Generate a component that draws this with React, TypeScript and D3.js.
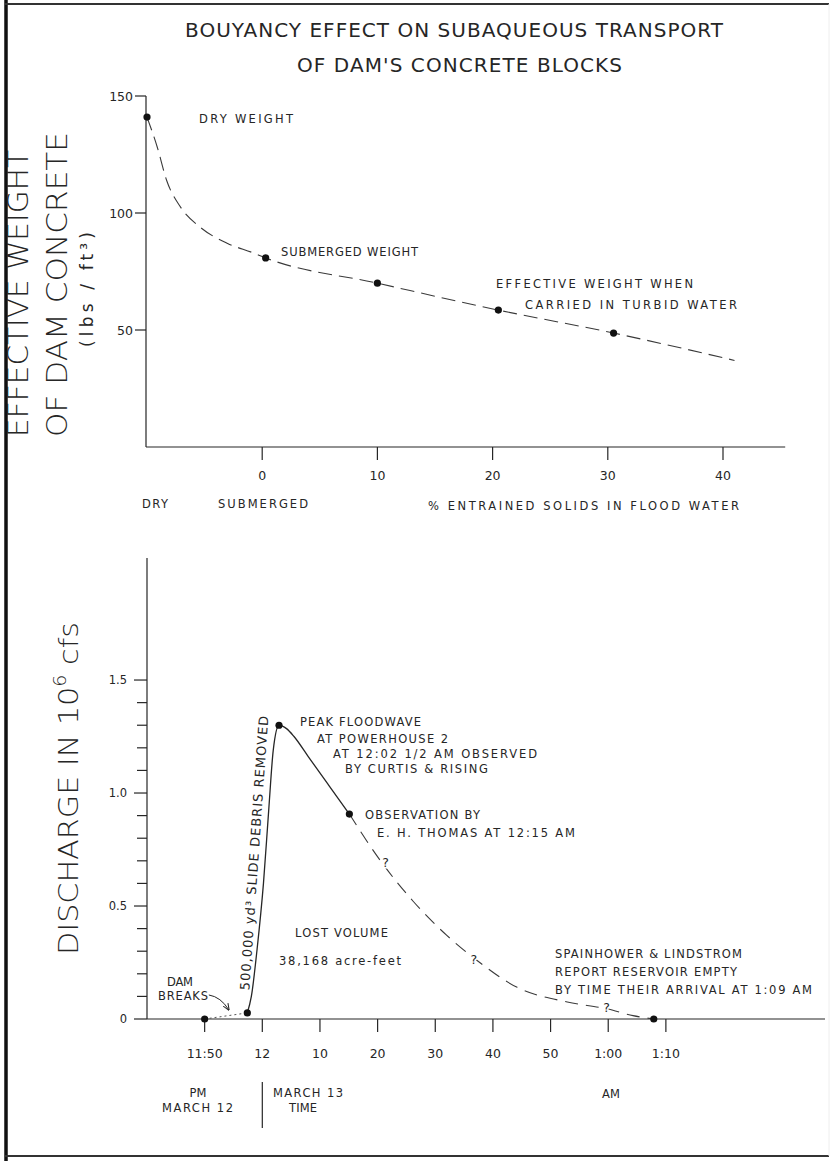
import React from 'react';
import * as d3 from 'd3';

const W = 831;
const H = 1161;

// ---- upper chart: effective weight vs % entrained solids (DRY plotted at -10)
const solidsPct = [-10, -9.1, -8.3, -7.1, -5.4, -3, -0.8, 0.3, 10, 20.5, 30.5, 41];
const effWeight = [141, 128, 114, 102.6, 94, 87, 83, 80.8, 70, 58.5, 48.7, 37];
const weightDotPct = [-10, 0.3, 10, 20.5, 30.5];
const weightDotVal = [141, 80.8, 70, 58.5, 48.7];
const weightTicks = [50, 100, 150];
const solidsTicks = [0, 10, 20, 30, 40];

// ---- lower chart: discharge (10^6 cfs) vs minutes after midnight
const solidMin = [-2.6, -1.9, -0.9, 0.2, 1.1, 1.9, 2.9, 4.2, 5.5, 8, 11.5, 15.1];
const solidQ = [0.027, 0.1, 0.31, 0.6, 0.92, 1.19, 1.3, 1.285, 1.25, 1.16, 1.035, 0.907];
const tailMin = [15.1, 20.5, 26.2, 32, 37.2, 44.2, 52.9, 59.8, 64.3, 67.9];
const tailQ = [0.907, 0.7, 0.52, 0.37, 0.26, 0.14, 0.075, 0.045, 0.015, 0];
const breakMin = [-10, -2.6];
const breakQ = [0, 0.027];
const obsMin = [-10, -2.6, 2.9, 15.1, 67.9];
const obsQ = [0, 0.027, 1.3, 0.907, 0];
const questionMin = [21.4, 36.7, 59.7];
const questionQ = [0.69, 0.26, 0.05];
const timeTicks = [-10, 0, 10, 20, 30, 40, 50, 60, 70];
const timeLabels = ['11:50', '12', '10', '20', '30', '40', '50', '1:00', '1:10'];
const qMajor = [0, 0.5, 1.0, 1.5];
const qMajorLabels = ['0', '0.5', '1.0', '1.5'];
const qMinor = [0.1, 0.2, 0.3, 0.4, 0.6, 0.7, 0.8, 0.9, 1.1, 1.2, 1.3, 1.4];

const ink = '#262626';
const font = '"DejaVu Sans", Verdana, sans-serif';

type TProps = {
  x: number;
  y: number;
  w?: number;
  size?: number;
  anchor?: 'start' | 'middle' | 'end';
  children: React.ReactNode;
};

const T = ({ x, y, w, size = 11.5, anchor = 'start', children }: TProps) => (
  <text
    x={x}
    y={y}
    fontSize={size}
    textAnchor={anchor}
    fill={ink}
    fontFamily={font}
    textLength={w}
    lengthAdjust={w ? 'spacing' : undefined}
  >
    {children}
  </text>
);

export default function App() {
  // upper scales
  const xTop = d3.scaleLinear().domain([-10, 40]).range([147, 723]);
  const yTop = d3.scaleLinear().domain([0, 150]).range([447, 96]);
  const topAxisEnd = 45.4;

  // lower scales
  const xBot = d3.scaleLinear().domain([-20, 97.6]).range([147, 825]);
  const yBot = d3.scaleLinear().domain([0, 2.04]).range([1019, 558]);

  const weightLine = d3
    .line<number>()
    .x((d) => xTop(d))
    .y((_, i) => yTop(effWeight[i]))
    .curve(d3.curveMonotoneX);

  const solidLine = d3
    .line<number>()
    .x((d) => xBot(d))
    .y((_, i) => yBot(solidQ[i]))
    .curve(d3.curveMonotoneX);

  const tailLine = d3
    .line<number>()
    .x((d) => xBot(d))
    .y((_, i) => yBot(tailQ[i]))
    .curve(d3.curveMonotoneX);

  const breakLine = d3
    .line<number>()
    .x((d) => xBot(d))
    .y((_, i) => yBot(breakQ[i]));

  // arrow for DAM BREAKS label, pointing at the dotted segment
  const arrowTip: [number, number] = [xBot(-5.8), yBot(0.04)];
  const arrowStart: [number, number] = [arrowTip[0] - 20, arrowTip[1] - 15];

  return (
    <div style={{ position: 'absolute', left: 0, top: 0 }}>
      <svg width={W} height={H} style={{ display: 'block', background: '#fff' }}>
        <defs>
          <marker id="ah" viewBox="0 0 10 10" refX="9" refY="5" markerWidth="7" markerHeight="7" orient="auto">
            <path d="M0,1 L10,5 L0,9" fill="none" stroke={ink} strokeWidth={1.5} />
          </marker>
        </defs>

        {/* frame */}
        <line x1={6} x2={6} y1={0} y2={H} stroke="#111" strokeWidth={3.5} />
        <line x1={5} x2={829} y1={4} y2={4} stroke="#333" strokeWidth={2} />
        <line x1={5} x2={829} y1={1156} y2={1156} stroke="#333" strokeWidth={2} />
        <line x1={829} x2={829} y1={4} y2={1156} stroke="#eee" strokeWidth={1} />

        {/* title */}
        <T x={185} y={37} w={538} size={20}>BOUYANCY EFFECT ON SUBAQUEOUS TRANSPORT</T>
        <T x={297} y={72} w={325} size={20}>OF DAM'S CONCRETE BLOCKS</T>

        {/* ================= upper chart ================= */}
        <g stroke={ink} strokeWidth={1.2}>
          <line x1={xTop(-10) - 1} x2={xTop(-10) - 1} y1={yTop(150)} y2={yTop(0)} />
          <line x1={xTop(-10) - 1} x2={xTop(topAxisEnd)} y1={yTop(0)} y2={yTop(0)} />
          {weightTicks.map((t) => (
            <line key={t} x1={xTop(-10) - 12} x2={xTop(-10) - 1} y1={yTop(t)} y2={yTop(t)} />
          ))}
          {solidsTicks.map((t) => (
            <line key={t} x1={xTop(t)} x2={xTop(t)} y1={yTop(0)} y2={yTop(0) + 13} />
          ))}
        </g>
        {weightTicks.map((t) => (
          <T key={t} x={xTop(-10) - 14} y={yTop(t) + 5} anchor="end" size={12.5}>
            {t}
          </T>
        ))}
        {solidsTicks.map((t) => (
          <T key={t} x={xTop(t)} y={yTop(0) + 33} anchor="middle" size={12.5}>
            {t}
          </T>
        ))}

        <path
          d={weightLine(solidsPct) || ''}
          fill="none"
          stroke="#3a3a3a"
          strokeWidth={1.1}
          strokeDasharray="14,7"
        />
        {weightDotPct.map((p, i) => (
          <circle key={p} cx={xTop(p)} cy={yTop(weightDotVal[i])} r={3.6} fill="#111" />
        ))}

        <T x={199} y={123} w={94}>DRY WEIGHT</T>
        <T x={281} y={256} w={137}>SUBMERGED WEIGHT</T>
        <T x={496} y={288} w={197}>EFFECTIVE WEIGHT WHEN</T>
        <T x={525} y={309} w={212}>CARRIED IN TURBID WATER</T>
        <T x={142} y={508} w={26}>DRY</T>
        <T x={218} y={508} w={90}>SUBMERGED</T>
        <T x={428} y={510} w={311}>% ENTRAINED SOLIDS IN FLOOD WATER</T>

        {/* upper y title */}
        <text
          transform="translate(28,437) rotate(-90)"
          fontSize={29}
          fill={ink}
          fontFamily={font}
          fontWeight={300}
          textLength={287}
          lengthAdjust="spacingAndGlyphs"
        >
          EFFECTIVE WEIGHT
        </text>
        <text
          transform="translate(67,437) rotate(-90)"
          fontSize={29}
          fill={ink}
          fontFamily={font}
          fontWeight={300}
          textLength={305}
          lengthAdjust="spacingAndGlyphs"
        >
          OF DAM CONCRETE
        </text>
        <text
          transform="translate(93,347) rotate(-90)"
          fontSize={17}
          fill={ink}
          fontFamily={font}
          textLength={115}
          lengthAdjust="spacing"
        >
          (lbs / ft³)
        </text>

        {/* ================= lower chart ================= */}
        <g stroke={ink} strokeWidth={1.2}>
          <line x1={xBot(-20)} x2={xBot(-20)} y1={yBot(2.04)} y2={yBot(0)} />
          <line x1={xBot(-20)} x2={xBot(97.6)} y1={yBot(0)} y2={yBot(0)} />
          {qMajor.map((t) => (
            <line key={t} x1={xBot(-20) - 13} x2={xBot(-20)} y1={yBot(t)} y2={yBot(t)} />
          ))}
          {qMinor.map((t) => (
            <line key={t} x1={xBot(-20) - 10} x2={xBot(-20)} y1={yBot(t)} y2={yBot(t)} />
          ))}
          {timeTicks.map((t) => (
            <line key={t} x1={xBot(t)} x2={xBot(t)} y1={yBot(0)} y2={yBot(0) + 13} />
          ))}
        </g>
        {qMajor.map((t, i) => (
          <T key={t} x={xBot(-20) - 20} y={yBot(t) + 4} anchor="end" size={11.5}>
            {qMajorLabels[i]}
          </T>
        ))}
        {timeTicks.map((t, i) => (
          <T key={t} x={xBot(t)} y={1058} anchor="middle" size={12.5}>
            {timeLabels[i]}
          </T>
        ))}

        <path d={breakLine(breakMin) || ''} fill="none" stroke="#555" strokeWidth={1} strokeDasharray="2,3" />
        <path d={solidLine(solidMin) || ''} fill="none" stroke={ink} strokeWidth={1.3} />
        <path
          d={tailLine(tailMin) || ''}
          fill="none"
          stroke="#3a3a3a"
          strokeWidth={1.1}
          strokeDasharray="13,8"
        />
        {obsMin.map((m, i) => (
          <circle key={m} cx={xBot(m)} cy={yBot(obsQ[i])} r={3.6} fill="#111" />
        ))}
        {questionMin.map((m, i) => (
          <text
            key={m}
            x={xBot(m)}
            y={yBot(questionQ[i]) + 4}
            fontSize={12.5}
            textAnchor="middle"
            fill={ink}
            fontFamily={font}
            stroke="#fff"
            strokeWidth={3}
            paintOrder="stroke"
          >
            ?
          </text>
        ))}

        <path
          d={`M${arrowStart[0]},${arrowStart[1]} Q${arrowStart[0] + 12},${arrowStart[1] + 2} ${arrowTip[0]},${arrowTip[1]}`}
          fill="none"
          stroke={ink}
          strokeWidth={1}
          markerEnd="url(#ah)"
        />

        <text
          transform={`translate(${xBot(-1.4)},853) rotate(-86)`}
          fontSize={13}
          textAnchor="middle"
          dy="0.35em"
          fill={ink}
          fontFamily={font}
          textLength={275}
          lengthAdjust="spacing"
        >
          500,000 yd³ SLIDE DEBRIS REMOVED
        </text>

        <T x={300} y={726} w={121}>PEAK FLOODWAVE</T>
        <T x={317} y={743} w={131}>AT POWERHOUSE 2</T>
        <T x={333} y={758} w={204}>AT 12:02 1/2 AM OBSERVED</T>
        <T x={345} y={773} w={143}>BY CURTIS &amp; RISING</T>
        <T x={365} y={819} w={115}>OBSERVATION BY</T>
        <T x={377} y={837} w={198}>E. H. THOMAS AT 12:15 AM</T>
        <T x={295} y={937} w={93}>LOST VOLUME</T>
        <T x={279} y={965} w={122}>38,168 acre-feet</T>
        <T x={167} y={986} w={26}>DAM</T>
        <T x={158} y={1000} w={50}>BREAKS</T>
        <T x={555} y={958} w={187}>SPAINHOWER &amp; LINDSTROM</T>
        <T x={555} y={976} w={182}>REPORT RESERVOIR EMPTY</T>
        <T x={555} y={994} w={257}>BY TIME THEIR ARRIVAL AT 1:09 AM</T>

        <T x={198} y={1097} anchor="middle">PM</T>
        <T x={162} y={1112} w={71}>MARCH 12</T>
        <line x1={xBot(0)} x2={xBot(0)} y1={1082} y2={1128} stroke={ink} strokeWidth={1.2} />
        <T x={273} y={1097} w={70}>MARCH 13</T>
        <T x={289} y={1112} w={28}>TIME</T>
        <T x={611} y={1098} anchor="middle">AM</T>

        {/* lower y title */}
        <text
          transform="translate(78,955) rotate(-90)"
          fontSize={27}
          fill={ink}
          fontFamily={font}
          fontWeight={300}
          textLength={333}
          lengthAdjust="spacingAndGlyphs"
        >
          DISCHARGE IN 10
          <tspan fontSize={17} dy={-12}>
            6
          </tspan>
          <tspan dy={12}> cfs</tspan>
        </text>
      </svg>
    </div>
  );
}
